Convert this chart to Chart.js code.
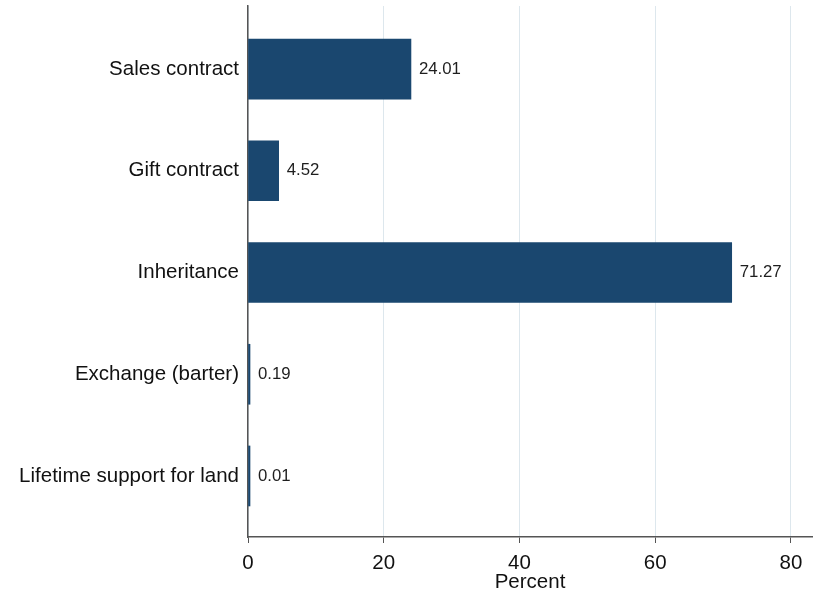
<!DOCTYPE html>
<html>
<head>
<meta charset="utf-8">
<script src="https://cdn.jsdelivr.net/npm/chart.js@4"></script>
<style>
  body { margin: 0; background: #fff; }
  #wrap { width: 814px; height: 595px; }
</style>
</head>
<body>
<div id="wrap"><canvas id="chart_modes" width="814" height="595"></canvas></div>
<script>
const categories = ["Sales contract", "Gift contract", "Inheritance", "Exchange (barter)", "Lifetime support for land"]
const percentValues = [24.01, 4.52, 71.27, 0.19, 0.01]
const xTickValues = [0, 20, 40, 60, 80]

const fontFamily = "'Liberation Sans', Arial, sans-serif"
const barColor = "#1a476f"

// value label at the end of each bar
const valueLabels = {
  id: "valueLabels",
  afterDatasetsDraw(chart) {
    const ctx = chart.ctx
    const meta = chart.getDatasetMeta(0)
    ctx.save()
    ctx.font = "16.8px " + fontFamily
    ctx.fillStyle = "#1e1e1e"
    ctx.textAlign = "left"
    ctx.textBaseline = "middle"
    meta.data.forEach((bar, i) => {
      ctx.fillText(percentValues[i].toFixed(2), bar.x + 8, bar.y)
    })
    ctx.restore()
  }
}

const canvasModes = document.getElementById("chart_modes").getContext("2d")

new Chart(canvasModes, {
  type: "bar",
  data: {
    datasets: [{
      data: percentValues.map((v, i) => ({ x: v, y: i })),
      backgroundColor: barColor,
      borderColor: barColor,
      borderWidth: 0,
      barThickness: 60,
      minBarLength: 2
    }]
  },
  options: {
    indexAxis: "y",
    responsive: false,
    animation: false,
    devicePixelRatio: 1,
    layout: { padding: { top: 6, right: 2, left: 0, bottom: 0 } },
    plugins: {
      legend: { display: false },
      tooltip: { enabled: false }
    },
    scales: {
      x: {
        type: "linear",
        min: 0,
        max: 83.1,
        afterBuildTicks: scale => { scale.ticks = xTickValues.map(v => ({ value: v })) },
        afterFit: scale => {
          scale.height = 58
          scale.paddingLeft = 0
          scale.paddingRight = 0
        },
        grid: { color: "#dde7ed", lineWidth: 1, tickColor: "#555", tickLength: 6 },
        border: { display: true, color: "#555", width: 1.5 },
        ticks: { color: "#111", font: { family: fontFamily, size: 20.5 }, padding: 8, maxRotation: 0 },
        title: {
          display: true,
          text: "Percent",
          color: "#111",
          font: { family: fontFamily, size: 20.5 },
          padding: { top: 0, bottom: 0.5 }
        }
      },
      y: {
        type: "linear",
        reverse: true,
        offset: false,
        min: -0.62,
        max: 4.6,
        afterBuildTicks: scale => { scale.ticks = categories.map((c, i) => ({ value: i })) },
        afterFit: scale => {
          scale.width = 248
          scale.paddingTop = 0
          scale.paddingBottom = 0
        },
        grid: { display: false, drawTicks: false, offset: false },
        border: { display: true, color: "#555", width: 1.5 },
        ticks: {
          color: "#111",
          font: { family: fontFamily, size: 20.5 },
          padding: 9,
          callback: value => categories[value]
        }
      }
    }
  },
  plugins: [valueLabels]
})
</script>
</body>
</html>
